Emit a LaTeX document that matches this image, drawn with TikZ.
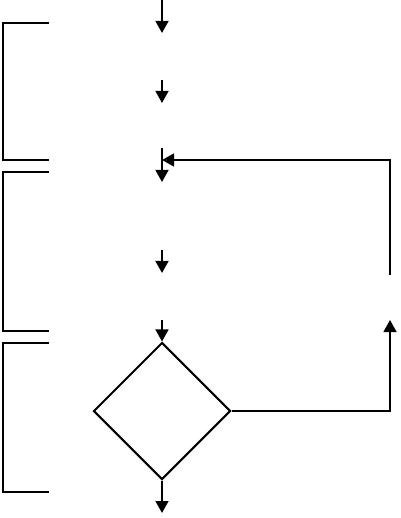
\documentclass[tikz,border=0pt]{standalone}
\usetikzlibrary{arrows.meta,shapes.geometric}
\tikzset{
  flow/.style   = {line width=1.4pt, -{Triangle[length=3mm,width=3.2mm]}},
  link/.style   = {line width=1.4pt},
  gruppo/.style = {line width=1pt},
  scelta/.style = {diamond, draw, line width=1.4pt, minimum width=3.425cm, minimum height=3.425cm, inner sep=0}
}

\begin{document}
\begin{tikzpicture}[x=0.025cm, y=-0.025cm]

  \useasboundingbox (0,0) rectangle (400,518);

  % brackets on the left
  \foreach \t/\b in {23/160, 172/331, 343/492}
    \draw[gruppo] (49,\t) -| (3,\b) -- (49,\b);

  \node[scelta] (D) at (162,411) {};

  \coordinate (a1) at (162,0);   \coordinate (b1) at (162,33);
  \coordinate (a2) at (162,80);  \coordinate (b2) at (162,103);
  \coordinate (a3) at (162,148); \coordinate (b3) at (162,182);
  \coordinate (a4) at (162,250); \coordinate (b4) at (162,273);
  \coordinate (a5) at (162,320); \coordinate (b6) at (162,513);
  \coordinate (m3) at (162,160);
  \coordinate (r1) at (390,320); \coordinate (r2) at (390,275);

  \draw[flow] (a1)--(b1);
  \draw[flow] (a2)--(b2);
  \draw[flow] (a3)--(b3);
  \draw[flow] (a4)--(b4);
  \draw[flow] (a5)--(D.north);
  \draw[flow] (D.south)--(b6);

  % loop back
  \draw[flow] (D.east) -| (r1);
  \draw[flow] (r2) |- (m3);

\end{tikzpicture}
\end{document}
